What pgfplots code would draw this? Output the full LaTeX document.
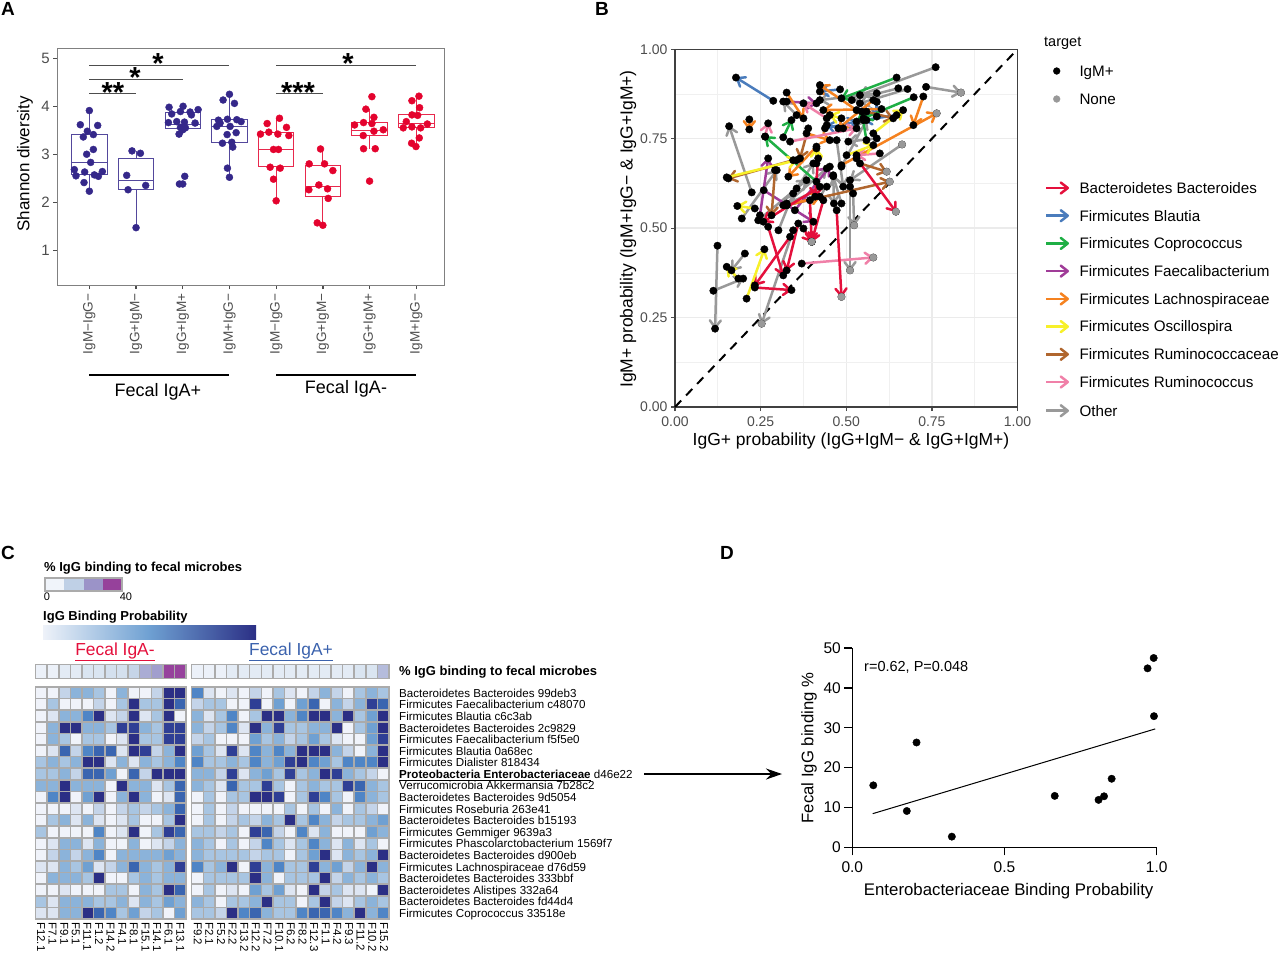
\documentclass[border=0pt]{standalone}
\usepackage{fontspec}
\setmainfont{Liberation Sans}
\usepackage{pgfplots}
\usepackage{pgfplotstable}
\pgfplotsset{compat=1.18}
\usepgfplotslibrary{statistics}
\usetikzlibrary{arrows.meta}
\newcommand\fs[1]{\fontsize{#1}{#1}\selectfont}
\definecolor{aBlue}{HTML}{35288A}
\definecolor{aRed}{HTML}{E4032E}
\definecolor{tk}{HTML}{4D4D4D}
\definecolor{cR}{HTML}{E4103C}
\definecolor{cB}{HTML}{4A7CBC}
\definecolor{cG}{HTML}{1FAF45}
\definecolor{cP}{HTML}{A03C98}
\definecolor{cO}{HTML}{F58220}
\definecolor{cY}{HTML}{F7F02A}
\definecolor{cW}{HTML}{B0662E}
\definecolor{cK}{HTML}{F080A8}
\definecolor{cA}{HTML}{999999}
\definecolor{hg}{HTML}{ABABAB}
\definecolor{s1}{HTML}{F0F4FA}
\definecolor{s2}{HTML}{BFD0E6}
\definecolor{s3}{HTML}{9B93C8}
\definecolor{s4}{HTML}{96419B}
\definecolor{g1}{HTML}{EEF2F9}
\definecolor{g2}{HTML}{6EA0D2}
\definecolor{g3}{HTML}{2B2F85}
\definecolor{igp}{HTML}{3B62AD}
\pgfplotstableread{
x0 y0 x1 y1
.761 .950 .540 .872
.733 .895 .835 .879
.652 .891 .516 .858
.679 .889 .540 .849
.224 .600 .158 .785
.663 .734 .511 .634
.589 .751 .506 .742
.195 .527 .297 .662
.462 .648 .464 .569
.511 .616 .511 .382
.243 .522 .384 .634
.355 .611 .404 .681
.302 .494 .345 .597
.316 .564 .443 .616
.486 .672 .559 .802
.472 .746 .491 .616
.124 .451 .117 .219
.112 .325 .199 .359
.204 .429 .165 .382
.345 .494 .253 .233
.520 .597 .523 .508
.486 .569 .462 .645
.355 .816 .316 .854
.589 .877 .423 .858
.326 .569 .443 .667
}\tA
\pgfplotstableread{
x0 y0 x1 y1
.287 .856 .178 .921
.482 .888 .423 .882
.589 .853 .589 .812
.438 .779 .530 .798
.647 .816 .550 .802
.491 .779 .443 .788
}\tB
\pgfplotstableread{
x0 y0 x1 y1
.647 .921 .486 .863
.697 .866 .550 .807
.413 .630 .263 .756
.316 .754 .340 .802
.559 .746 .545 .826
}\tG
\pgfplotstableread{
x0 y0 x1 y1
.326 .879 .375 .807
.725 .868 .696 .788
.530 .830 .423 .900
.603 .833 .433 .830
.579 .858 .477 .779
.413 .728 .331 .644
.384 .765 .452 .746
.486 .676 .764 .821
.326 .564 .423 .588
.217 .804 .217 .776
}\tO
\pgfplotstableread{
x0 y0 x1 y1
.151 .642 .355 .690
.233 .555 .182 .562
.501 .704 .579 .732
.579 .765 .666 .830
.413 .681 .413 .723
.486 .807 .452 .816
.209 .303 .261 .441
.185 .359 .151 .392
}\tY
\pgfplotstableread{
x0 y0 x1 y1
.336 .742 .530 .779
.443 .807 .375 .849
.598 .709 .530 .704
.263 .756 .272 .793
.370 .401 .579 .418
}\tK
\pgfplotstableread{
x0 y0 x1 y1
.326 .854 .413 .849
.248 .536 .272 .695
.259 .606 .404 .518
.350 .550 .452 .672
}\tP
\pgfplotstableread{
x0 y0 x1 y1
.389 .779 .365 .695
.292 .662 .282 .536
.540 .681 .618 .658
.326 .564 .627 .630
.345 .690 .156 .639
.559 .826 .637 .807
}\tW
\pgfplotstableread{
x0 y0 x1 y1
.530 .695 .645 .546
.472 .550 .486 .308
.272 .504 .316 .368
.360 .513 .326 .382
.336 .476 .233 .340
.233 .334 .340 .327
.375 .499 .399 .462
.394 .578 .399 .462
.433 .578 .399 .462
.423 .616 .258 .518
.418 .695 .409 .588
}\tR
\pgfplotsset{
 hm/.style={hide axis,scale only axis,clip=false,y dir=reverse,xmin=-0.5,ymin=-0.5,
  point meta min=0,point meta max=9,
  colormap={hmc}{rgb255=(240,243,250) rgb255=(221,229,242) rgb255=(196,212,233) rgb255=(168,197,226) rgb255=(139,179,218) rgb255=(111,160,210) rgb255=(79,133,198) rgb255=(58,101,176) rgb255=(47,63,149) rgb255=(43,47,133)}},
 st/.style={hide axis,scale only axis,clip=false,xmin=-0.5,ymin=-0.5,ymax=0.5,
  point meta min=0,point meta max=5,
  colormap={stc}{rgb255=(236,241,249) rgb255=(218,229,241) rgb255=(198,213,232) rgb255=(170,172,212) rgb255=(155,148,200) rgb255=(150,66,156)}},
 hcell/.style={scatter,only marks,mark=square*,mark size=5.8pt,scatter/use mapped color={draw=hg,fill=mapped color},point meta=\thisrowno{0}},
 arrw/.style={line width=2.5pt,-{Straight Barb[length=7pt,width=11pt,round]}}
}
\newcommand\arrs[2]{\addplot[#1,arrw,quiver={u=\thisrow{x1}-\thisrow{x0},v=\thisrow{y1}-\thisrow{y0}}] table[x=x0,y=y0] {#2};}
\newcommand\dts[1]{\addplot[only marks,mark=*,mark size=3.7pt,black] table[x=x0,y=y0] {#1};\addplot[only marks,mark=*,mark size=3.7pt,black] table[x=x1,y=y1] {#1};}
\begin{document}
\begin{tikzpicture}[x=1pt,y=1pt]
\path (0,0) rectangle (1280,-954);
% --- panel labels
\node[anchor=base west,inner sep=0,font=\fs{19}\bfseries] at (1,-15) {A};
\node[anchor=base west,inner sep=0,font=\fs{19}\bfseries] at (595,-15) {B};
\node[anchor=base west,inner sep=0,font=\fs{19}\bfseries] at (1,-559) {C};
\node[anchor=base west,inner sep=0,font=\fs{19}\bfseries] at (720,-559) {D};
% --- panel A
\begin{axis}[at={(57.3pt,-285pt)},anchor=south west,scale only axis,width=387pt,height=236.8pt,
 xmin=0.314,xmax=8.6,ymin=0.285,ymax=5.22,clip=false,
 xtick={1,...,8},ytick={1,...,5},
 xticklabels={IgM−IgG−,IgG+IgM−,IgG+IgM+,IgM+IgG−,IgM−IgG−,IgG+IgM−,IgG+IgM+,IgM+IgG−},
 xticklabel style={rotate=90,anchor=east,font=\fs{13.6},text=tk,xshift=-1pt},
 yticklabel style={/pgf/number format/assume math mode=true,font=\fs{15},text=tk},
 tick align=outside,major tick length=4pt,tick style={line width=1.3pt,color=tk},
 xtick pos=bottom,ytick pos=left,axis line style={line width=.9pt,color=black!50},
 boxplot/draw direction=y]
\addplot[color=aBlue!85!white,line width=.9pt,boxplot prepared={draw position=1,lower whisker=2.24,lower quartile=2.58,median=2.84,upper quartile=3.42,upper whisker=3.92,box extend=0.76,whisker extend=0}] coordinates {};
\addplot[color=aBlue!85!white,line width=.9pt,boxplot prepared={draw position=2,lower whisker=1.48,lower quartile=2.28,median=2.47,upper quartile=2.92,upper whisker=3.08,box extend=0.76,whisker extend=0}] coordinates {};
\addplot[color=aBlue!85!white,line width=.9pt,boxplot prepared={draw position=3,lower whisker=3.43,lower quartile=3.55,median=3.625,upper quartile=3.89,upper whisker=4.01,box extend=0.76,whisker extend=0}] coordinates {};
\addplot[color=aBlue!85!white,line width=.9pt,boxplot prepared={draw position=4,lower whisker=2.53,lower quartile=3.26,median=3.59,upper quartile=3.73,upper whisker=4.26,box extend=0.76,whisker extend=0}] coordinates {};
\addplot[color=aRed!85!white,line width=.9pt,boxplot prepared={draw position=5,lower whisker=2.04,lower quartile=2.75,median=3.11,upper quartile=3.47,upper whisker=3.76,box extend=0.76,whisker extend=0}] coordinates {};
\addplot[color=aRed!85!white,line width=.9pt,boxplot prepared={draw position=6,lower whisker=1.53,lower quartile=2.13,median=2.33,upper quartile=2.78,upper whisker=3.12,box extend=0.76,whisker extend=0}] coordinates {};
\addplot[color=aRed!85!white,line width=.9pt,boxplot prepared={draw position=7,lower whisker=3.125,lower quartile=3.40,median=3.51,upper quartile=3.67,upper whisker=3.95,box extend=0.76,whisker extend=0}] coordinates {};
\addplot[color=aRed!85!white,line width=.9pt,boxplot prepared={draw position=8,lower whisker=3.17,lower quartile=3.56,median=3.65,upper quartile=3.83,upper whisker=4.22,box extend=0.76,whisker extend=0}] coordinates {};
\addplot[only marks,mark=*,mark size=3.5pt,aBlue] coordinates {
(1.00,3.92)(.807,3.625)(1.179,3.61)(.957,3.49)(1.086,3.42)(.871,3.37)(1.086,3.11)(.943,3.01)(1.029,2.84)(.679,2.69)(.714,2.56)(.9,2.64)(1.107,2.58)(1.193,2.55)(1.279,2.65)(.886,2.42)(1.0,2.24)
(1.914,3.08)(2.093,3.03)(1.8,2.57)(2.207,2.36)(1.829,2.27)(2,1.48)
(2.707,3.99)(2.764,3.85)(2.95,3.90)(3.007,4.01)(3.157,3.89)(3.186,3.83)(3.329,3.94)(2.693,3.67)(2.871,3.69)(3.036,3.68)(3.264,3.66)(2.95,3.57)(3.057,3.56)(3,3.52)(2.921,3.43)(3.043,2.55)(2.929,2.39)(3.0,2.39)
(4,4.26)(3.864,4.14)(4.107,4.07)(3.764,3.72)(3.957,3.74)(4.157,3.73)(4.25,3.69)(3.729,3.59)(4.014,3.59)(3.95,3.42)(4.143,3.46)(3.85,3.24)(4.05,3.26)(4.071,3.16)(3.957,2.72)(4,2.53)(3.8,3.66)};
\addplot[only marks,mark=*,mark size=3.5pt,aRed] coordinates {
(5.071,3.76)(4.807,3.65)(5.221,3.57)(4.664,3.43)(4.843,3.47)(5.036,3.43)(5.271,3.40)(4.943,3.11)(5.05,3.11)(4.871,2.74)(5.086,2.72)(4.943,2.49)(5,2.04)
(5.95,3.12)(5.707,2.81)(6.036,2.81)(6.214,2.67)(5.914,2.37)(5.7,2.27)(6.1,2.29)(6.114,2.09)(5.879,1.58)(6,1.53)
(7.05,4.21)(6.921,3.95)(7.093,3.78)(6.679,3.62)(6.871,3.67)(7.05,3.65)(6.864,3.40)(7.093,3.49)(7.293,3.52)(6.871,3.125)(7.121,3.125)(7,2.45)
(8.057,4.22)(7.907,4.125)(8.071,3.98)(7.907,3.83)(8.029,3.82)(7.786,3.69)(7.721,3.56)(7.907,3.58)(8.093,3.56)(8.236,3.64)(8.064,3.35)(7.9,3.24)(7.993,3.17)};
\addplot[line width=1.2pt,color=tk] coordinates {(1,4.86)(4,4.86)};
\addplot[line width=1.2pt,color=tk] coordinates {(1,4.57)(3,4.57)};
\addplot[line width=1.2pt,color=tk] coordinates {(1,4.28)(2,4.28)};
\addplot[line width=1.2pt,color=tk] coordinates {(5,4.86)(8,4.86)};
\addplot[line width=1.2pt,color=tk] coordinates {(5,4.28)(6,4.28)};
\end{axis}
\foreach \p/\q/\s in {158/-73/*,135/-87/*,113/-102/**,348/-73/*,298/-102/***}
  \node[anchor=base,inner sep=0,font=\fs{29}\bfseries] at (\p,\q) {\s};
\node[rotate=90,font=\fs{17},inner sep=0] at (25,-164) {Shannon diversity};
\draw[line width=1.2pt] (89.3,-375) -- (229.3,-375);
\draw[line width=1.2pt] (276,-375) -- (416,-375);
\node[font=\fs{18},inner sep=0] at (158,-391.5) {Fecal IgA+};
\node[font=\fs{18},inner sep=0] at (346,-388.5) {Fecal IgA-};
% --- panel B
\begin{axis}[at={(675pt,-407pt)},anchor=south west,scale only axis,width=342.5pt,height=357.7pt,
 xmin=0,xmax=1,ymin=0,ymax=1,clip=false,
 xtick={0,.25,.5,.75,1},ytick={0,.25,.5,.75,1},
 minor xtick={.125,.375,.625,.875},minor ytick={.125,.375,.625,.875},
 grid=both,major grid style={line width=1.4pt,color=black!8},minor grid style={line width=.7pt,color=black!6},
 tick label style={/pgf/number format/.cd,fixed,fixed zerofill,precision=2,assume math mode=true,/tikz/.cd,font=\fs{14},text=tk},
 xticklabel style={yshift=-2pt},
 tick align=outside,major tick length=4pt,minor tick length=0pt,tick style={line width=1.3pt,color=tk},
 xtick pos=bottom,ytick pos=left,axis line style={line width=1.1pt,color=black!75}]
\addplot[black,line width=2pt,dash pattern=on 9pt off 7pt] coordinates {(0,0)(1,1)};
\dts{\tA}\dts{\tB}\dts{\tG}\dts{\tO}\dts{\tY}\dts{\tK}\dts{\tP}\dts{\tW}\dts{\tR}
\addplot[only marks,mark=*,mark size=3.6pt,cA] coordinates {(.764,.821)(.835,.879)(.618,.658)(.627,.630)(.645,.546)(.486,.308)(.399,.462)(.579,.418)(.511,.382)(.253,.233)(.663,.734)(.523,.508)};
\arrs{cA}{\tA}\arrs{cB}{\tB}\arrs{cG}{\tG}\arrs{cP}{\tP}\arrs{cW}{\tW}\arrs{cO}{\tO}\arrs{cK}{\tK}\arrs{cR}{\tR}\arrs{cY}{\tY}
\end{axis}
\node[font=\fs{17.5},inner sep=0] at (851,-441) {IgG+ probability (IgG+IgM− \& IgG+IgM+)};
\node[rotate=90,font=\fs{17.5},inner sep=0] at (628,-229) {IgM+ probability (IgM+IgG− \& IgG+IgM+)};
% --- legend of panel B
\begin{axis}[at={(1040pt,-420pt)},anchor=south west,scale only axis,width=40pt,height=390pt,hide axis,clip=false,
 xmin=1040,xmax=1080,ymin=-420,ymax=-30]
\addplot[only marks,mark=*,mark size=3.4pt,black] coordinates {(1056.7,-71)};
\addplot[only marks,mark=*,mark size=3.4pt,cA] coordinates {(1056.7,-99)};
\addplot[cR,arrw] coordinates {(1046,-188)(1069,-188)};
\addplot[cB,arrw] coordinates {(1046,-215.7)(1069,-215.7)};
\addplot[cG,arrw] coordinates {(1046,-243.4)(1069,-243.4)};
\addplot[cP,arrw] coordinates {(1046,-271.1)(1069,-271.1)};
\addplot[cO,arrw] coordinates {(1046,-298.9)(1069,-298.9)};
\addplot[cY,arrw] coordinates {(1046,-326.6)(1069,-326.6)};
\addplot[cW,arrw] coordinates {(1046,-354.3)(1069,-354.3)};
\addplot[cK,arrw] coordinates {(1046,-382)(1069,-382)};
\addplot[cA,arrw] coordinates {(1046,-410.7)(1069,-410.7)};
\end{axis}
\node[anchor=base west,inner sep=0,font=\fs{14.5}] at (1044,-46.8) {target};
\foreach \t/\y in {IgM+/76.3,None/104.3,Bacteroidetes Bacteroides/193.3,Firmicutes Blautia/221,Firmicutes Coprococcus/248.7,Firmicutes Faecalibacterium/276.4,Firmicutes Lachnospiraceae/304.2,Firmicutes Oscillospira/331.9,Firmicutes Ruminococcaceae/359.6,Firmicutes Ruminococcus/387.3,Other/416}
 \node[anchor=base west,inner sep=0,font=\fs{15.2}] at (1079.3,-\y) {\t};
% --- panel C legends
\node[anchor=base west,inner sep=0,font=\fs{13}\bfseries] at (44,-571) {\% IgG binding to fecal microbes};
\fill[s1] (45,-578) rectangle (64,-591);
\fill[s2] (64,-578) rectangle (83.5,-591);
\fill[s3] (83.5,-578) rectangle (103,-591);
\fill[s4] (103,-578) rectangle (122,-591);
\draw[hg,line width=1.2pt] (45,-578) rectangle (122,-591);
\node[font=\fs{11},inner sep=0] at (47,-597) {0};
\node[font=\fs{11},inner sep=0] at (126,-597) {40};
\node[anchor=base west,inner sep=0,font=\fs{13}\bfseries] at (43,-620) {IgG Binding Probability};
\shade[left color=g1,right color=g3,middle color=g2] (43,-625.5) rectangle (256,-639.5);
\node[font=\fs{17.4},inner sep=0,text=cR] at (115,-652) {\underline{Fecal IgA-}};
\node[font=\fs{17.4},inner sep=0,text=igp] at (291,-652) {\underline{Fecal IgA+}};
% --- strips
\begin{axis}[at={(35.7pt,-678.5pt)},anchor=south west,width=150.3pt,height=14pt,st,xmax=12.5]
\addplot[hcell,mark options={yscale=1.2,line width=1.5pt}] table[row sep=crcr,header=false,x expr={mod(\coordindex,13)},y expr={0*\coordindex}] {0\\0\\0.5\\0.5\\1\\1\\1.3\\1.3\\2\\3\\3.6\\5\\5\\};
\end{axis}
\begin{axis}[at={(191.7pt,-678.5pt)},anchor=south west,width=197.3pt,height=14pt,st,xmax=16.5]
\addplot[hcell,mark options={yscale=1.2,line width=1.5pt}] table[row sep=crcr,header=false,x expr={mod(\coordindex,17)},y expr={0*\coordindex}] {0\\0\\0\\0.5\\0.5\\0.5\\0.5\\0.5\\0.5\\0.5\\0.5\\0.5\\0.5\\0.5\\1\\1\\2.6\\};
\end{axis}
% --- heat maps
\begin{axis}[at={(35.7pt,-919pt)},anchor=south west,scale only axis,width=150.3pt,height=232pt,hm,xmax=12.5,ymax=19.5]
\addplot[hcell,mark options={line width=1.5pt}] table[row sep=crcr,header=false,x expr={mod(\coordindex,13)},y expr={floor((\coordindex+0.5)/13)}] {
0\\0\\2\\4\\4\\3\\0\\4\\0\\0\\2\\9\\9\\
0\\3\\0\\0\\0\\2\\0\\3\\9\\3\\3\\9\\7\\
0\\1\\4\\4\\6\\9\\1\\2\\9\\1\\3\\9\\0\\
0\\4\\9\\9\\4\\4\\3\\8\\8\\4\\3\\8\\8\\
0\\4\\3\\0\\3\\3\\0\\1\\9\\3\\3\\8\\8\\
0\\1\\7\\2\\6\\7\\7\\1\\9\\8\\2\\4\\9\\
3\\4\\3\\4\\9\\9\\1\\4\\1\\4\\3\\4\\6\\
3\\3\\4\\2\\7\\7\\5\\0\\7\\2\\9\\9\\9\\
4\\4\\9\\4\\4\\4\\0\\9\\4\\4\\1\\3\\7\\
0\\6\\9\\0\\5\\9\\0\\4\\9\\4\\0\\1\\7\\
0\\0\\0\\1\\0\\2\\0\\2\\3\\2\\3\\4\\7\\
0\\3\\4\\1\\4\\1\\0\\1\\3\\0\\0\\3\\9\\
3\\0\\0\\0\\0\\6\\0\\1\\9\\0\\3\\8\\7\\
0\\1\\4\\4\\1\\4\\0\\0\\4\\0\\1\\2\\4\\
0\\2\\4\\2\\4\\6\\0\\4\\4\\4\\4\\5\\4\\
1\\1\\4\\3\\5\\1\\2\\4\\7\\4\\3\\4\\8\\
0\\4\\4\\4\\3\\9\\0\\0\\3\\4\\3\\4\\4\\
0\\0\\1\\0\\0\\0\\3\\3\\0\\4\\3\\9\\7\\
3\\1\\4\\4\\4\\3\\3\\4\\1\\4\\3\\5\\4\\
1\\1\\4\\4\\9\\7\\6\\3\\5\\2\\3\\0\\5\\
};
\end{axis}
\begin{axis}[at={(191.7pt,-919pt)},anchor=south west,scale only axis,width=197.3pt,height=232pt,hm,xmax=16.5,ymax=19.5]
\addplot[hcell,mark options={line width=1.5pt}] table[row sep=crcr,header=false,x expr={mod(\coordindex,17)},y expr={floor((\coordindex+0.5)/17)}] {
6\\1\\0\\1\\0\\2\\0\\3\\1\\0\\2\\4\\2\\0\\3\\4\\3\\
2\\3\\3\\0\\0\\8\\0\\5\\0\\5\\7\\0\\4\\2\\4\\8\\7\\
4\\1\\3\\6\\0\\3\\9\\9\\4\\6\\9\\9\\4\\9\\3\\5\\9\\
4\\2\\3\\6\\1\\9\\4\\8\\3\\3\\4\\4\\9\\0\\3\\5\\9\\
2\\3\\0\\0\\0\\5\\3\\4\\2\\3\\5\\3\\1\\0\\0\\5\\8\\
5\\3\\1\\8\\1\\6\\4\\6\\4\\9\\9\\9\\4\\2\\0\\4\\9\\
6\\3\\3\\4\\3\\6\\4\\5\\8\\9\\6\\5\\3\\6\\6\\6\\9\\
4\\4\\2\\8\\1\\4\\5\\3\\8\\3\\4\\9\\8\\4\\3\\2\\0\\
4\\3\\1\\7\\3\\3\\8\\3\\0\\3\\4\\3\\3\\8\\7\\4\\3\\
0\\3\\0\\3\\3\\9\\9\\8\\0\\3\\8\\6\\3\\0\\6\\4\\3\\
0\\3\\0\\2\\0\\0\\0\\0\\3\\0\\3\\0\\4\\0\\3\\2\\0\\
0\\3\\0\\2\\3\\2\\4\\3\\9\\3\\6\\4\\2\\3\\3\\4\\5\\
3\\3\\2\\3\\0\\8\\7\\2\\0\\6\\1\\4\\0\\0\\0\\5\\4\\
4\\3\\0\\3\\0\\2\\6\\3\\1\\3\\6\\4\\1\\4\\1\\3\\0\\
4\\3\\3\\3\\3\\2\\3\\3\\0\\3\\5\\9\\1\\4\\3\\4\\9\\
6\\3\\4\\9\\0\\8\\4\\6\\3\\3\\8\\4\\5\\2\\4\\9\\4\\
0\\3\\3\\3\\3\\9\\4\\0\\3\\3\\3\\9\\2\\4\\3\\4\\3\\
0\\3\\0\\1\\0\\5\\3\\5\\1\\0\\9\\2\\3\\1\\1\\0\\9\\
4\\3\\0\\3\\3\\4\\9\\3\\3\\0\\3\\9\\2\\1\\3\\4\\3\\
3\\3\\2\\9\\6\\7\\4\\3\\3\\6\\7\\7\\6\\4\\9\\4\\6\\
};
\end{axis}
\node[anchor=west,inner sep=0,font=\fs{13}\bfseries] at (399,-672) {\% IgG binding to fecal microbes};
\foreach \t [count=\i from 0] in {Bacteroidetes Bacteroides 99deb3,Firmicutes Faecalibacterium c48070,Firmicutes Blautia c6c3ab,Bacteroidetes Bacteroides 2c9829,Firmicutes Faecalibacterium f5f5e0,Firmicutes Blautia 0a68ec,Firmicutes Dialister 818434,{\textbf{\underline{Proteobacteria Enterobacteriaceae}} d46e22},Verrucomicrobia Akkermansia 7b28c2,Bacteroidetes Bacteroides 9d5054,Firmicutes Roseburia 263e41,Bacteroidetes Bacteroides b15193,Firmicutes Gemmiger 9639a3,Firmicutes Phascolarctobacterium 1569f7,Bacteroidetes Bacteroides d900eb,Firmicutes Lachnospiraceae d76d59,Bacteroidetes Bacteroides 333bbf,Bacteroidetes Alistipes 332a64,Bacteroidetes Bacteroides fd44d4,Firmicutes Coprococcus 33518e}
 \node[anchor=base west,inner sep=0,font=\fs{11.6}] at (399,{-697.3-\i*11.58}) {\t};
\foreach \t [count=\i from 0] in {F12.1,F7.1,F9.1,F5.1,F11.1,F1.2,F14.2,F4.1,F8.1,F15.1,F14.1,F6.1,F13.1}
 \node[rotate=-90,anchor=west,inner sep=0,font=\fs{11.4}] at ({41+\i*11.6},-922) {\t};
\foreach \t [count=\i from 0] in {F9.2,F2.1,F5.2,F2.2,F13.2,F12.2,F7.2,F10.1,F6.2,F8.2,F12.3,F1.1,F4.2,F9.3,F11.2,F10.2,F15.2}
 \node[rotate=-90,anchor=west,inner sep=0,font=\fs{11.4}] at ({197.7+\i*11.64},-922) {\t};
\draw[line width=1.3pt,-{Stealth[length=16pt,width=11pt]}] (644,-774) -- (782,-774);
% --- panel D
\begin{axis}[at={(852.3pt,-847.3pt)},anchor=south west,scale only axis,width=304.4pt,height=199.3pt,
 xmin=0,xmax=1,ymin=0,ymax=50,clip=false,axis lines=left,axis line style={-,line width=1.4pt},
 xtick={0,.5,1},ytick={0,10,20,30,40,50},
 xticklabels={0.0,0.5,1.0},
 tick label style={/pgf/number format/assume math mode=true,font=\fs{15.5}},
 xticklabel style={yshift=-3pt},
 tick align=outside,major tick length=8pt,tick style={line width=1.3pt,black}]
\addplot[black,line width=1pt] coordinates {(.067,8.44)(.995,29.7)};
\addplot[only marks,mark=*,mark size=3.7pt,black] coordinates {(.069,15.55)(.179,9.11)(.211,26.3)(.327,2.68)(.665,12.9)(.809,11.9)(.827,12.8)(.852,17.2)(.970,44.9)(.990,47.5)(.991,32.9)};
\end{axis}
\node[font=\fs{16.8},inner sep=0] at (1008.7,-890.7) {Enterobacteriaceae Binding Probability};
\node[rotate=90,font=\fs{16.7},inner sep=0] at (809,-748) {Fecal IgG binding \%};
\node[anchor=west,inner sep=0,font=\fs{14.5}] at (864,-667) {r=0.62, P=0.048};
\end{tikzpicture}
\end{document}
